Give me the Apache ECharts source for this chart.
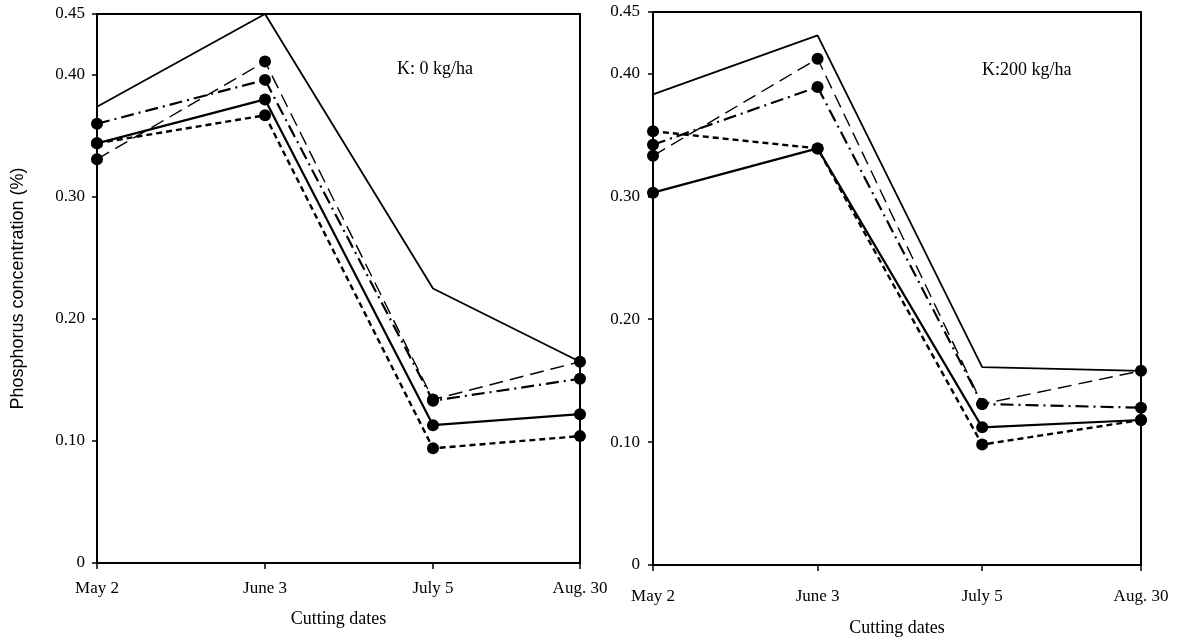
<!DOCTYPE html>
<html>
<head>
<meta charset="utf-8">
<script src="https://cdn.jsdelivr.net/npm/echarts@6/dist/echarts.min.js"></script>
<style>html,body{margin:0;padding:0;background:#fff;}#c{width:1184px;height:642px;}</style>
</head>
<body>
<div id="c"></div>
<script>
// Categories (cutting dates) and their plotted positions on the drawn axes
const dates = ['May 2', 'June 3', 'July 5', 'Aug. 30'];
const posK0 = [0, 1, 2, 2.875];
const posK200 = [0, 1, 2, 2.965];

// Y tick values
const yTicks = [0, 0.10, 0.20, 0.30, 0.40, 0.45];

// K: 0 kg/ha panel
const k0Top = [0.374, 0.450, 0.225, 0.165];
const k0LongDash = [0.331, 0.411, 0.134, 0.165];
const k0DashDot = [0.360, 0.396, 0.133, 0.151];
const k0Solid = [0.344, 0.380, 0.113, 0.122];
const k0ShortDash = [0.344, 0.367, 0.094, 0.104];

// K: 200 kg/ha panel
const k200Top = [0.383, 0.431, 0.161, 0.158];
const k200LongDash = [0.333, 0.412, 0.131, 0.158];
const k200DashDot = [0.342, 0.389, 0.131, 0.128];
const k200Solid = [0.303, 0.339, 0.112, 0.118];
const k200ShortDash = [0.353, 0.339, 0.098, 0.118];

const serif = 'Liberation Serif';
const styles = {
  top: {type: 'solid', width: 1.8, symbol: 'none'},
  longDash: {type: [14, 7], width: 1.4, symbol: 'circle'},
  dashDot: {type: [13, 5, 2, 5], width: 2.2, symbol: 'circle'},
  solid: {type: 'solid', width: 2.2, symbol: 'circle'},
  shortDash: {type: [6, 4], width: 2.4, symbol: 'circle'}
};

function mk(name, vals, pos, st, idx) {
  return {
    name: name, type: 'line', xAxisIndex: idx, yAxisIndex: idx,
    data: vals.map((v, i) => [pos[i], v]),
    symbol: st.symbol, symbolSize: 12,
    itemStyle: {color: '#000'},
    lineStyle: {color: '#000', width: st.width, type: st.type},
    silent: true, animation: false, z: 3
  };
}

function xAx(idx, pos, margin, nameGap) {
  return {
    type: 'value', gridIndex: idx, min: 0, max: pos[pos.length - 1],
    name: 'Cutting dates', nameLocation: 'middle', nameGap: nameGap,
    nameTextStyle: {fontFamily: serif, fontSize: 18, color: '#000'},
    axisLine: {show: true, lineStyle: {color: '#000', width: 2}},
    axisTick: {show: true, inside: false, length: 6, customValues: pos, lineStyle: {color: '#000', width: 1.5}},
    axisLabel: {customValues: pos, margin: margin, fontFamily: serif, fontSize: 17, color: '#000',
      formatter: function (v) {
        let best = 0;
        for (let i = 0; i < pos.length; i++) if (Math.abs(pos[i] - v) < Math.abs(pos[best] - v)) best = i;
        return dates[best];
      }},
    splitLine: {show: false}
  };
}

function yAx(idx, withName, margin) {
  const ax = {
    type: 'value', gridIndex: idx, min: 0, max: 0.45,
    axisLine: {show: true, lineStyle: {color: '#000', width: 2}},
    axisTick: {show: true, inside: false, length: 5, customValues: yTicks, lineStyle: {color: '#000', width: 1.5}},
    axisLabel: {customValues: yTicks, margin: margin, fontFamily: serif, fontSize: 17, color: '#000',
      formatter: function (v) { return v === 0 ? '0' : v.toFixed(2); }},
    splitLine: {show: false}
  };
  if (withName) {
    ax.name = 'Phosphorus concentration (%)';
    ax.nameLocation = 'middle';
    ax.nameGap = 70;
    ax.nameTextStyle = {fontFamily: 'Liberation Sans', fontSize: 18, color: '#000'};
  }
  return ax;
}

const chart = echarts.init(document.getElementById('c'), null, {renderer: 'canvas'});
chart.setOption({
  backgroundColor: '#fff',
  animation: false,
  title: [
    {text: 'K: 0 kg/ha', left: 392, top: 55, textStyle: {fontFamily: serif, fontSize: 18, fontWeight: 'normal', color: '#000'}},
    {text: 'K:200 kg/ha', left: 977, top: 56, textStyle: {fontFamily: serif, fontSize: 18, fontWeight: 'normal', color: '#000'}}
  ],
  grid: [
    {left: 97, top: 14, width: 483, height: 549, show: true, borderColor: '#000', borderWidth: 2, backgroundColor: 'transparent'},
    {left: 653, top: 12, width: 488, height: 553, show: true, borderColor: '#000', borderWidth: 2, backgroundColor: 'transparent'}
  ],
  xAxis: [xAx(0, posK0, 17, 47), xAx(1, posK200, 23, 54)],
  yAxis: [yAx(0, true, 12), yAx(1, false, 13)],
  series: [
    mk('k0Top', k0Top, posK0, styles.top, 0),
    mk('k0LongDash', k0LongDash, posK0, styles.longDash, 0),
    mk('k0DashDot', k0DashDot, posK0, styles.dashDot, 0),
    mk('k0Solid', k0Solid, posK0, styles.solid, 0),
    mk('k0ShortDash', k0ShortDash, posK0, styles.shortDash, 0),
    mk('k200Top', k200Top, posK200, styles.top, 1),
    mk('k200LongDash', k200LongDash, posK200, styles.longDash, 1),
    mk('k200DashDot', k200DashDot, posK200, styles.dashDot, 1),
    mk('k200Solid', k200Solid, posK200, styles.solid, 1),
    mk('k200ShortDash', k200ShortDash, posK200, styles.shortDash, 1)
  ]
});
</script>
</body>
</html>
